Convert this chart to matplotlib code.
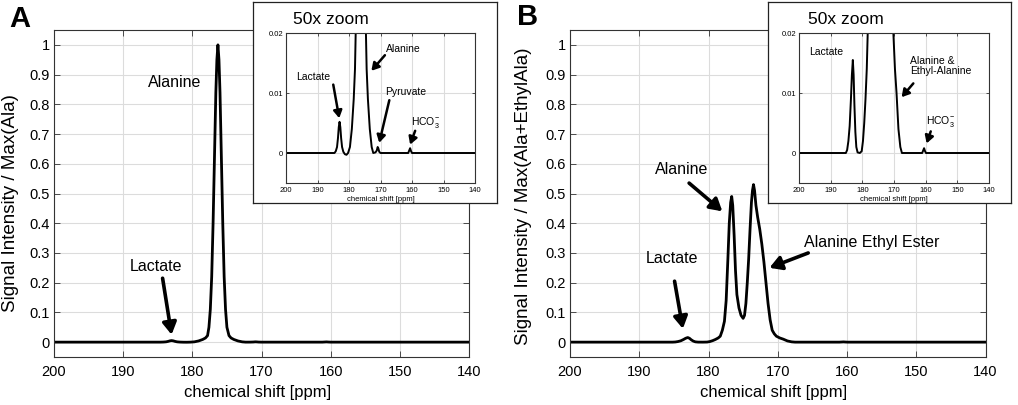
import matplotlib
matplotlib.use("Agg")
import matplotlib.pyplot as plt
from matplotlib.ticker import FormatStrFormatter
import numpy as np

plt.rcParams['font.family'] = ['Liberation Sans', 'DejaVu Sans']
plt.rcParams['mathtext.fontset'] = 'custom'
plt.rcParams['mathtext.rm'] = 'Liberation Sans'
plt.rcParams['mathtext.it'] = 'Liberation Sans'

# ---------------- data ----------------
# Panel A: (chemical shift [ppm], signal / max(Ala))
spec_A = [
    (200, 0), (195, 0), (190, 0), (186, 0), (184.6, 0.0), (184.2, 0.0003),
    (183.8, 0.001), (183.5, 0.0025), (183.25, 0.0043), (183.0, 0.0052),
    (182.75, 0.0043), (182.5, 0.0025), (182.2, 0.001), (181.8, 0.0002),
    (181.3, -0.0002), (180.8, -0.0003), (180.3, 0.0), (179.7, 0.001),
    (179.1, 0.004), (178.5, 0.009), (178.1, 0.014), (177.8, 0.022),
    (177.6, 0.05), (177.4, 0.11), (177.2, 0.22), (177.0, 0.40), (176.8, 0.62),
    (176.6, 0.84), (176.45, 0.95), (176.3, 1.0), (176.15, 0.95), (176.0, 0.84),
    (175.8, 0.62), (175.6, 0.40), (175.4, 0.22), (175.2, 0.11), (175.0, 0.05),
    (174.7, 0.022), (174.4, 0.014), (174.0, 0.009), (173.4, 0.004),
    (172.8, 0.001), (172.3, 0.0), (171.6, 0.0001), (171.2, 0.0004),
    (170.9, 0.001), (170.7, 0.0008), (170.4, 0.0002), (170.0, 0.0),
    (165, 0.0), (161.2, 0.0), (160.9, 0.0004), (160.6, 0.0008),
    (160.3, 0.0003), (160.0, 0.0), (155, 0), (150, 0), (145, 0), (140, 0),
]

# Panel B: (chemical shift [ppm], signal / max(Ala+EthylAla))
spec_B = [
    (200, 0), (195, 0), (190, 0), (186, 0), (185.2, 0.0), (184.8, 0.0005),
    (184.4, 0.002), (184.0, 0.0045), (183.6, 0.009), (183.3, 0.013),
    (183.0, 0.0155), (182.75, 0.013), (182.5, 0.008), (182.2, 0.0035),
    (181.9, 0.001), (181.5, 0.0001), (180.8, 0.0), (180.2, 0.0003),
    (179.8, 0.002), (179.4, 0.005), (179.0, 0.009), (178.6, 0.014),
    (178.3, 0.02), (178.0, 0.04), (177.7, 0.07), (177.45, 0.14), (177.2, 0.28),
    (177.0, 0.40), (176.8, 0.47), (176.65, 0.49), (176.5, 0.46), (176.3, 0.36),
    (176.1, 0.24), (175.9, 0.16), (175.6, 0.115), (175.3, 0.09), (175.0, 0.08),
    (174.8, 0.09), (174.6, 0.13), (174.4, 0.20), (174.2, 0.28), (174.0, 0.38),
    (173.8, 0.47), (173.65, 0.51), (173.5, 0.53), (173.35, 0.51),
    (173.15, 0.46), (172.9, 0.42), (172.6, 0.38), (172.3, 0.33), (172.0, 0.27),
    (171.7, 0.20), (171.4, 0.13), (171.1, 0.075), (170.8, 0.04),
    (170.5, 0.028), (170.2, 0.02), (169.7, 0.014), (169.2, 0.01),
    (168.6, 0.004), (168.0, 0.001), (167.5, 0.0), (165, 0.0), (161.1, 0.0),
    (160.8, 0.0004), (160.5, 0.0008), (160.2, 0.0003), (159.9, 0.0),
    (155, 0), (150, 0), (145, 0), (140, 0),
]

x_ticks = [200, 190, 180, 170, 160, 150, 140]
y_ticks_main = [0, 0.1, 0.2, 0.3, 0.4, 0.5, 0.6, 0.7, 0.8, 0.9, 1.0]
y_ticks_inset = [0, 0.01, 0.02]

ylabel_A = 'Signal Intensity / Max(Ala)'
ylabel_B = 'Signal Intensity / Max(Ala+EthylAla)'
xlabel = 'chemical shift [ppm]'
HCO3 = r'HCO$_3^{-}$'

# labels: (text, text position, arrow start, arrow tip, alignment)
labels_A = [
    ('Alanine', (182.6, 0.875), None, None, 'center'),
    ('Lactate', (185.3, 0.253), (184.3, 0.215), (183.0, 0.025), 'center'),
]
labels_A_inset = [
    ('Lactate', (191.4, 0.0126), (185.0, 0.0114), (183.1, 0.0058), 'center'),
    ('Alanine', (162.8, 0.0174), (168.6, 0.0163), (172.9, 0.0137), 'center'),
    ('Pyruvate', (162.0, 0.0102), (167.2, 0.0088), (170.4, 0.0017), 'center'),
    (HCO3, (160.2, 0.0050), (159.0, 0.0037), (160.6, 0.0014), 'left'),
]
labels_B = [
    ('Alanine', (183.9, 0.58), (182.8, 0.535), (178.0, 0.44), 'center'),
    ('Lactate', (185.2, 0.283), (184.9, 0.205), (183.7, 0.045), 'center'),
    ('Alanine Ethyl Ester', (156.4, 0.334), (165.6, 0.30), (171.2, 0.25), 'center'),
]
labels_B_inset = [
    ('Lactate', (191.3, 0.0169), None, None, 'center'),
    ('Alanine &\nEthyl-Alanine', (165.0, 0.0145), (163.9, 0.0116), (167.6, 0.0093), 'left'),
    (HCO3, (160.0, 0.0052), (158.4, 0.0036), (159.7, 0.0016), 'left'),
]

# ---------------- figure ----------------
W, H = 1018, 405
fig = plt.figure(figsize=(W / 100, H / 100), dpi=100)


def fx(px):
    return px / W


def fy(py):
    return 1 - py / H


def rect(l, r, t, b):
    return [fx(l), fy(b), fx(r) - fx(l), fy(t) - fy(b)]


def style_axes(ax, fs, ticklen, pad_x, pad_y):
    ax.set_xlim(200, 140)
    ax.set_xticks(x_ticks)
    ax.tick_params(direction='in', top=True, right=True, length=ticklen,
                   width=0.6, color='#333333', labelsize=fs)
    ax.tick_params(axis='x', pad=pad_x)
    ax.tick_params(axis='y', pad=pad_y)
    ax.grid(True, color='#dcdcdc', lw=0.8)
    ax.set_axisbelow(True)
    for s in ax.spines.values():
        s.set_color('#333333')
        s.set_linewidth(0.8)


def arrow(ax, start, tip, lw, ms):
    ax.annotate('', xy=tip, xytext=start,
                arrowprops=dict(arrowstyle='-|>,head_length=0.55,head_width=0.32',
                                lw=lw, color='k', shrinkA=0, shrinkB=0,
                                mutation_scale=ms))


def draw_labels(ax, labels, fs, lw, ms):
    for text, tpos, a0, a1, ha in labels:
        ax.text(tpos[0], tpos[1], text, fontsize=fs, ha=ha, va='center',
                linespacing=1.05)
        if a0 is not None:
            arrow(ax, a0, a1, lw, ms)


def main_panel(ax, spec, ylabel, lab_x, lab_y, labels):
    xs = [p[0] for p in spec]
    ys = [p[1] for p in spec]
    ax.plot(xs, ys, color='k', lw=2.0, solid_joinstyle='round')
    style_axes(ax, 10.5, 4, 6, 3)
    ax.set_ylim(-0.05, 1.05)
    ax.set_yticks(y_ticks_main)
    ax.yaxis.set_major_formatter(FormatStrFormatter('%g'))
    ax.set_ylabel(ylabel, fontsize=13.5)
    ax.yaxis.set_label_coords(lab_x, lab_y)
    ax.set_xlabel(xlabel, fontsize=12)
    ax.xaxis.set_label_coords(0.49, -0.086)
    draw_labels(ax, labels, 11.5, 2.6, 13)


def inset_panel(box_rect, ax_rect, spec, labels, title_px):
    box = fig.add_axes(box_rect)
    box.set_xticks([])
    box.set_yticks([])
    box.set_facecolor('white')
    for s in box.spines.values():
        s.set_color('#222222')
        s.set_linewidth(0.9)
    fig.text(fx(title_px[0]), fy(title_px[1]), '50x zoom', fontsize=12.5,
             ha='left', va='center')
    ax = fig.add_axes(ax_rect)
    xs = [p[0] for p in spec]
    ys = [p[1] for p in spec]
    ax.plot(xs, ys, color='k', lw=1.4, solid_joinstyle='round')
    style_axes(ax, 5.5, 2.5, 3, 2)
    ax.set_ylim(-0.005, 0.02)
    ax.set_yticks(y_ticks_inset)
    ax.yaxis.set_major_formatter(FormatStrFormatter('%g'))
    ax.set_xlabel(xlabel, fontsize=5.5, labelpad=1)
    draw_labels(ax, labels, 7.5, 1.8, 8)
    return ax


axA = fig.add_axes(rect(54, 469, 30, 357))
main_panel(axA, spec_A, ylabel_A, -0.084, 0.471, labels_A)
axB = fig.add_axes(rect(570, 985.5, 30, 357))
main_panel(axB, spec_B, ylabel_B, -0.0915, 0.492, labels_B)

inset_panel(rect(253, 497, 2, 203), rect(286, 475, 33, 183), spec_A,
            labels_A_inset, (293, 19))
inset_panel(rect(768, 1011, 2, 203), rect(799, 989, 33, 183), spec_B,
            labels_B_inset, (808, 19))

fig.text(fx(9), fy(19), 'A', fontsize=21, fontweight='bold', ha='left', va='center')
fig.text(fx(517), fy(17), 'B', fontsize=21, fontweight='bold', ha='left', va='center')

fig.savefig('out.png', dpi=100)
